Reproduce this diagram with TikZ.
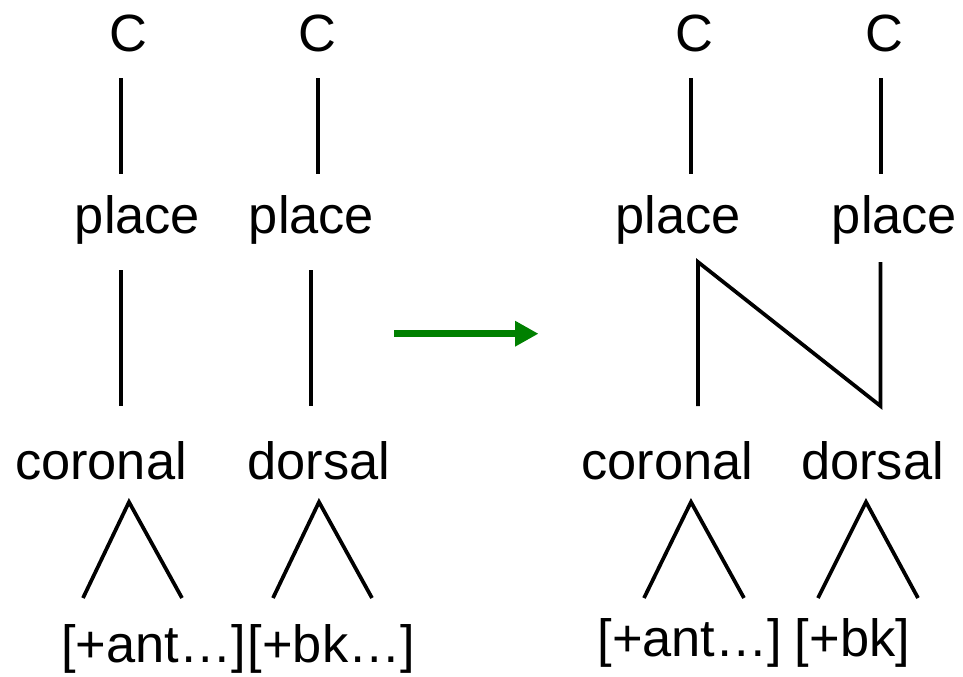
\documentclass[tikz,border=0pt]{standalone}
\usepackage{fontspec}
\setmainfont{Liberation Sans}
\usetikzlibrary{arrows.meta}
\definecolor{arrowgreen}{RGB}{0,128,0}
\begin{document}
\begin{tikzpicture}[x=0.75pt,y=-0.75pt,
  lbl/.style={anchor=base,inner sep=0pt,font=\fontsize{39.3}{47}\selectfont},
  branch/.style={line width=2.8pt,line cap=butt,line join=miter},
  changearrow/.style={draw=arrowgreen,line width=5.5pt,-{Triangle[length=17.5pt,width=18pt]}}]
\useasboundingbox (0,0) rectangle (963,676);

% ---------- left tree pair ----------
\node[lbl] (c1) at (128,51) {C};
\node[lbl] (c2) at (317,51) {C};
\node[lbl] (pl1) at (137.5,233) {place};
\node[lbl] (pl2) at (311.5,233) {place};
\node[lbl] (cor1) at (101,479) {coronal};
\node[lbl] (dor1) at (319,479) {dorsal};
\node[lbl] (f1) at (153.5,662) {[+ant…]};
\node[lbl] (f2) at (331.5,662) {[+bk…]};

\coordinate (c1b) at (120.7,78);  \coordinate (pl1t) at (120.7,174);
\coordinate (c2b) at (318,78);    \coordinate (pl2t) at (318,174);
\coordinate (pl1b) at (120.7,270); \coordinate (cor1t) at (120.7,406);
\coordinate (pl2b) at (310.7,270); \coordinate (dor1t) at (310.7,406);
\coordinate (cor1a) at (129,502); \coordinate (cor1l) at (83,598); \coordinate (cor1r) at (182,598);
\coordinate (dor1a) at (319,502); \coordinate (dor1l) at (273,598); \coordinate (dor1r) at (372,598);

\draw[branch] (c1b) -- (pl1t);
\draw[branch] (c2b) -- (pl2t);
\draw[branch] (pl1b) -- (cor1t);
\draw[branch] (pl2b) -- (dor1t);
\draw[branch] (cor1l) -- (cor1a) -- (cor1r);
\draw[branch] (dor1l) -- (dor1a) -- (dor1r);

% ---------- arrow ----------
\coordinate (arrS) at (394,333.7);
\coordinate (arrE) at (538.5,333.7);
\draw[changearrow] (arrS) -- (arrE);

% ---------- right tree pair ----------
\node[lbl] (c3) at (694,51) {C};
\node[lbl] (c4) at (884,51) {C};
\node[lbl] (pl3) at (678,233) {place};
\node[lbl] (pl4) at (894.5,233) {place};
\node[lbl] (cor2) at (667.5,479) {coronal};
\node[lbl] (dor2) at (872.5,479) {dorsal};
\node[lbl] (f3) at (690,656) {[+ant…]};
\node[lbl] (f4) at (852.5,656) {[+bk]};

\coordinate (c3b) at (690.7,78); \coordinate (pl3t) at (690.7,174);
\coordinate (c4b) at (881,78);   \coordinate (pl4t) at (881,174);
\coordinate (pl3b) at (698,262); \coordinate (cor2t) at (698,406);
\coordinate (pl4b) at (880.5,262); \coordinate (dor2t) at (880.5,406);
\coordinate (cor2a) at (691,502); \coordinate (cor2l) at (644,598); \coordinate (cor2r) at (744,598);
\coordinate (dor2a) at (866,502); \coordinate (dor2l) at (818,598); \coordinate (dor2r) at (918,598);

\draw[branch] (c3b) -- (pl3t);
\draw[branch] (c4b) -- (pl4t);
\draw[branch] (cor2t) -- (pl3b) -- (dor2t) -- (pl4b);
\draw[branch] (cor2l) -- (cor2a) -- (cor2r);
\draw[branch] (dor2l) -- (dor2a) -- (dor2r);
\end{tikzpicture}
\end{document}
